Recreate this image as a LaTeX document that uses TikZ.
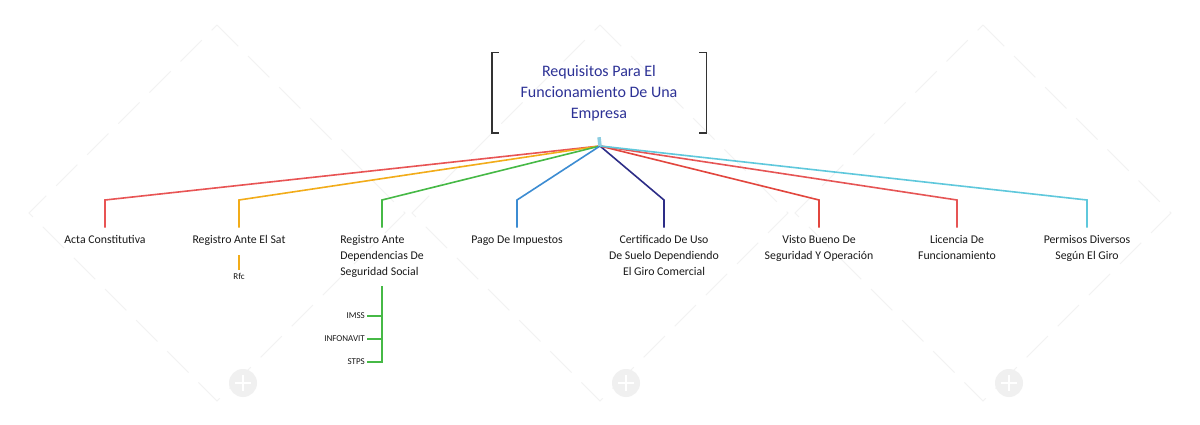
\documentclass[tikz,border=0pt]{standalone}
\usepackage{fontspec}
\setmainfont{Carlito}
\definecolor{cActa}{RGB}{232,84,84}
\definecolor{cSat}{RGB}{242,172,25}
\definecolor{cDep}{RGB}{70,185,70}
\definecolor{cPago}{RGB}{60,140,210}
\definecolor{cCert}{RGB}{45,45,135}
\definecolor{cVisto}{RGB}{226,70,62}
\definecolor{cLic}{RGB}{230,85,85}
\definecolor{cPerm}{RGB}{95,200,220}
\definecolor{cStub}{RGB}{140,205,225}
\definecolor{cTitle}{RGB}{45,50,150}
\definecolor{cText}{RGB}{25,25,25}
\begin{document}
\begin{tikzpicture}[x=1pt,y=-1pt,
  conn/.style={line width=1.6pt, line join=miter},
  subconn/.style={line width=1.2pt},
  lbl/.style={font=\fontsize{11.8}{16}\selectfont, text=cText, align=center, inner xsep=0pt, inner ysep=8pt, anchor=north},
  sublbl/.style={font=\fontsize{9}{10}\selectfont, text=cText, inner xsep=2pt, inner ysep=3pt},
  titlebox/.style={font=\fontsize{16}{21}\selectfont, text=cTitle, align=center, minimum width=214pt, minimum height=80pt, inner sep=0pt},
  brk/.style={draw=black!80, line width=1.4pt},
  wm/.style={draw=black!5, line width=1pt, dash pattern=on 30pt off 14pt},
  wmlogo/.style={fill=black!6, draw=none}]
\useasboundingbox (0,0) rectangle (1200,425);
\fill[white] (0,0) rectangle (1200,425);
% watermark diamonds
\foreach \cx in {217,600,983}{
  \draw[wm] (\cx,25) -- (\cx+188,213) -- (\cx,401) -- (\cx-188,213) -- cycle;
  \fill[wmlogo] (\cx+26,383) circle (14);
  \draw[white, line width=1.2pt] (\cx+26,375) -- (\cx+26,391) (\cx+18,383) -- (\cx+34,383);
}
% title
\node[titlebox] (root) at (599,93) {Requisitos Para El\\Funcionamiento De Una\\Empresa};
\draw[brk] ([xshift=7pt]root.north west) -- (root.north west) -- (root.south west) -- ([xshift=7pt]root.south west);
\draw[brk] ([xshift=-7pt]root.north east) -- (root.north east) -- (root.south east) -- ([xshift=-7pt]root.south east);
\coordinate (hub) at (600,146);
% children
\node[lbl] (acta) at (105,227.5) {Acta Constitutiva};
\node[lbl] (sat) at (239,227.5) {Registro Ante El Sat};
\node[lbl, align=left] (dep) at (382,227.5) {Registro Ante\\Dependencias De\\Seguridad Social};
\node[lbl] (pago) at (517,227.5) {Pago De Impuestos};
\node[lbl] (cert) at (664,227.5) {Certificado De Uso\\De Suelo Dependiendo\\El Giro Comercial};
\node[lbl] (visto) at (819,227.5) {Visto Bueno De\\Seguridad Y Operación};
\node[lbl] (lic) at (957,227.5) {Licencia De\\Funcionamiento};
\node[lbl] (perm) at (1087,227.5) {Permisos Diversos\\Según El Giro};
% connectors
\draw[conn, cActa] (hub) -- ([yshift=27.5pt]acta.north) -- (acta.north);
\draw[conn, cSat] (hub) -- ([yshift=27.5pt]sat.north) -- (sat.north);
\draw[conn, cDep] (hub) -- ([yshift=27.5pt]dep.north) -- (dep.north);
\draw[conn, cPago] (hub) -- ([yshift=27.5pt]pago.north) -- (pago.north);
\draw[conn, cCert] (hub) -- ([yshift=27.5pt]cert.north) -- (cert.north);
\draw[conn, cVisto] (hub) -- ([yshift=27.5pt]visto.north) -- (visto.north);
\draw[conn, cLic] (hub) -- ([yshift=27.5pt]lic.north) -- (lic.north);
\draw[conn, cPerm] (hub) -- ([yshift=27.5pt]perm.north) -- (perm.north);
\draw[cStub, line width=3.5pt] ([yshift=-4pt]root.south) -- (hub);
% sub items
\node[sublbl, anchor=north] (rfc) at (239,270) {Rfc};
\draw[subconn, cSat] ([yshift=-1pt]sat.south) -- (rfc.north);
\node[sublbl, anchor=east] (imss) at (367,316) {IMSS};
\node[sublbl, anchor=east] (infonavit) at (367,339) {INFONAVIT};
\node[sublbl, anchor=east] (stps) at (367,362) {STPS};
\draw[subconn, cDep] (dep.south) |- (stps.east);
\draw[subconn, cDep] (imss.east) -- (imss.east -| dep.south);
\draw[subconn, cDep] (infonavit.east) -- (infonavit.east -| dep.south);
\end{tikzpicture}
\end{document}
